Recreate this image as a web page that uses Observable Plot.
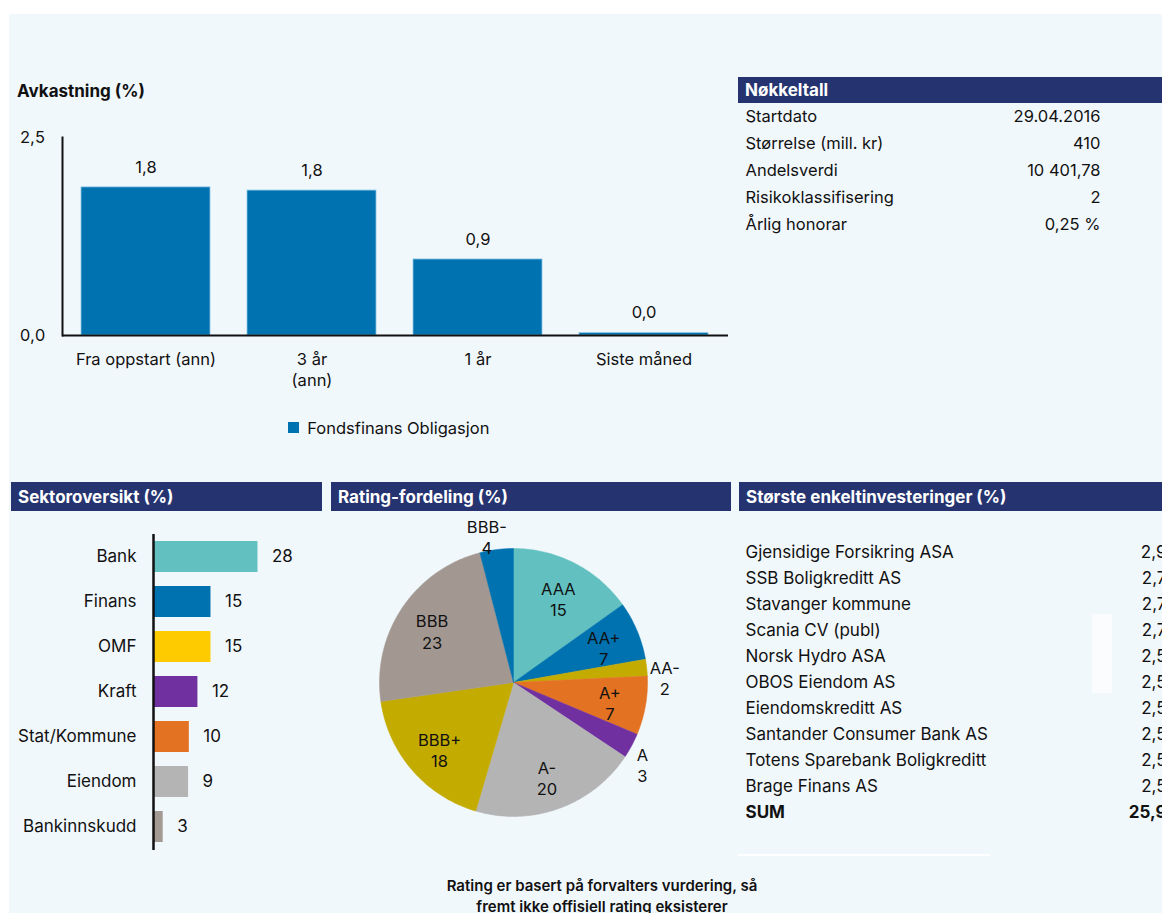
<!DOCTYPE html>
<html>
<head>
<meta charset="utf-8">
<script src="https://cdn.jsdelivr.net/npm/d3@7"></script>
<script src="https://cdn.jsdelivr.net/npm/@observablehq/plot@0.6"></script>
<style>
  html, body { margin: 0; padding: 0; background: #fff; }
  #root { position: relative; width: 1162px; height: 913px; overflow: hidden; background: #fff; font-family: Inter, "Liberation Sans", sans-serif; color: #111; }
  .abs { position: absolute; }
  .abs svg { max-width: none !important; }
  .panel { position: absolute; left: 9px; top: 14px; right: 0; bottom: 0; background: #f1f8fc; }
  .hdr { position: absolute; background: #253470; color: #fff; font-weight: 700; font-size: 17px; box-sizing: border-box; padding-left: 7px; display: flex; align-items: center; }
  .title { position: absolute; font-weight: 700; font-size: 17px; }
  .note { position: absolute; font-weight: 600; font-size: 15px; line-height: 21px; text-align: center; }
</style>
</head>
<body>
<div id="root">
  <div class="panel"></div>
  <div class="title" style="left:17px;top:81px;">Avkastning (%)</div>
  <div id="perf" class="abs" style="left:0;top:120px;width:735px;"></div>
  <div id="perfLegend" class="abs" style="left:288px;top:411px;"></div>

  <div class="hdr" style="left:738px;top:77px;width:424px;height:26px;">Nøkkeltall</div>
  <div id="keys" class="abs" style="left:738px;top:104px;width:424px;"></div>

  <div class="hdr" style="left:11px;top:482px;width:311px;height:29px;">Sektoroversikt (%)</div>
  <div id="sector" class="abs" style="left:0;top:511px;width:330px;"></div>

  <div class="hdr" style="left:331px;top:482px;width:400px;height:29px;">Rating-fordeling (%)</div>
  <div id="rating" class="abs" style="left:331px;top:511px;width:400px;"></div>

  <div class="hdr" style="left:739px;top:482px;width:423px;height:29px;">Største enkeltinvesteringer (%)</div>
  <div id="holdings" class="abs" style="left:738px;top:530px;width:440px;"></div>
  <div class="abs" style="left:1092px;top:614px;width:20px;height:79px;background:#fafcfe;"></div>
  <div class="abs" style="left:738px;top:854px;width:252px;height:2px;background:#ffffff;"></div>

  <div class="note" style="left:402px;top:875px;width:400px;">Rating er basert på forvalters vurdering, så<br>fremt ikke offisiell rating eksisterer</div>
</div>
<script>
// ---------- Data ----------
const perfCategories = ["Fra oppstart (ann)", "3 år (ann)", "1 år", "Siste måned"];
const perfTickLabels = ["Fra oppstart (ann)", "3 år\n(ann)", "1 år", "Siste måned"];
const perfValues = [1.87, 1.83, 0.96, 0.03];
const perfValueLabels = ["1,8", "1,8", "0,9", "0,0"];
const perfYTicks = [0, 2.5];
const perfSeriesName = "Fondsfinans Obligasjon";

const keyLabels = ["Startdato", "Størrelse (mill. kr)", "Andelsverdi", "Risikoklassifisering", "Årlig honorar"];
const keyValues = ["29.04.2016", "410", "10 401,78", "2", "0,25 %"];

const sectorNames = ["Bank", "Finans", "OMF", "Kraft", "Stat/Kommune", "Eiendom", "Bankinnskudd"];
const sectorValues = [28, 15.4, 15.4, 11.9, 9.6, 9.4, 2.6];
const sectorColors = ["#62c1c0", "#0072b0", "#fecb00", "#7030a0", "#e37222", "#b4b4b4", "#a39a94"];

const ratingNames = ["AAA", "AA+", "AA-", "A+", "A", "A-", "BBB+", "BBB", "BBB-"];
const ratingValues = [15, 7, 2, 7, 3, 20, 18, 23, 4];
const ratingColors = ["#62c1c0", "#0072b0", "#c4ab00", "#e37222", "#7030a0", "#b4b4b4", "#c4ab00", "#a29891", "#0072b0"];

const holdingNames = ["Gjensidige Forsikring ASA", "SSB Boligkreditt AS", "Stavanger kommune", "Scania CV (publ)", "Norsk Hydro ASA", "OBOS Eiendom AS", "Eiendomskreditt AS", "Santander Consumer Bank AS", "Totens Sparebank Boligkreditt", "Brage Finans AS"];
const holdingValues = ["2,9", "2,7", "2,7", "2,7", "2,5", "2,5", "2,5", "2,5", "2,5", "2,5"];
const holdingSumLabel = "SUM";
const holdingSumValue = "25,9";

// ---------- Common ----------
const FONT = "Inter, 'Liberation Sans', sans-serif";
const baseStyle = {fontFamily: FONT, fontSize: "16px", color: "#111", background: "transparent", overflow: "visible", maxWidth: "none"};
const comma1 = d => d3.format(".1f")(d).replace(".", ",");

// ---------- Avkastning bar chart ----------
const perfData = perfCategories.map((c, i) => ({cat: c, value: perfValues[i], label: perfValueLabels[i], tick: perfTickLabels[i]}));
const perf = Plot.plot({
  width: 735, height: 280,
  marginLeft: 62, marginRight: 7, marginTop: 17, marginBottom: 65,
  style: baseStyle,
  x: {domain: perfCategories, paddingInner: 0.22, paddingOuter: 0.11},
  y: {domain: [0, 2.5]},
  marks: [
    Plot.barY(perfData, {x: "cat", y: "value", fill: "#0072b0", stroke: "#8cc6e6", strokeWidth: 0.8}),
    Plot.text(perfData, {x: "cat", y: "value", text: "label", dy: -20, lineAnchor: "middle", fontSize: 16.5, fill: "#111"}),
    Plot.frame({anchor: "left", stroke: "#111", strokeWidth: 2}),
    Plot.ruleY([0], {stroke: "#111", strokeWidth: 2}),
    Plot.axisY({ticks: perfYTicks, tickFormat: comma1, tickSize: 0, tickPadding: 17, fontSize: 16.5, label: null, lineAnchor: "middle"}),
    Plot.axisX({tickSize: 0, tickPadding: 14, fontSize: 16.5, label: null, lineHeight: 1.3,
      tickFormat: d => perfTickLabels[perfCategories.indexOf(d)]})
  ]
});
document.getElementById("perf").appendChild(perf);

const legend = Plot.legend({
  color: {type: "ordinal", domain: [perfSeriesName], range: ["#0072b0"]},
  legend: "swatches", swatchSize: 11,
  style: {fontFamily: FONT, fontSize: "16.5px", color: "#111", background: "transparent"}
});
document.getElementById("perfLegend").appendChild(legend);

// ---------- Nøkkeltall table ----------
const keyData = keyLabels.map((l, i) => ({label: l, value: keyValues[i]}));
const keys = Plot.plot({
  width: 424, height: 134, margin: 0,
  style: baseStyle,
  y: {type: "point", domain: keyLabels, range: [12, 120], padding: 0, axis: null},
  marks: [
    Plot.text(keyData, {y: "label", text: "label", frameAnchor: "left", textAnchor: "start", dx: 7, fontSize: 16.5, fill: "#111"}),
    Plot.text(keyData, {y: "label", text: "value", frameAnchor: "right", textAnchor: "end", dx: -62, fontSize: 16.5, fill: "#111"})
  ]
});
document.getElementById("keys").appendChild(keys);

// ---------- Sektoroversikt ----------
const sectorData = sectorNames.map((n, i) => ({name: n, value: sectorValues[i], color: sectorColors[i]}));
const pxPerUnit = 104.5 / 28;
const sector = Plot.plot({
  width: 330, height: 345,
  marginLeft: 153, marginRight: 0, marginTop: 23, marginBottom: 6,
  style: baseStyle,
  x: {domain: [0, 40], range: [153, 153 + 40 * pxPerUnit], axis: null},
  y: {domain: sectorNames, paddingInner: 0.3, paddingOuter: 0.15},
  color: {type: "identity"},
  marks: [
    Plot.barX(sectorData, {y: "name", x: "value", fill: "color"}),
    Plot.text(sectorData, {y: "name", x: "value", text: d => d3.format(".0f")(d.value), dx: 14, textAnchor: "start", fontSize: 17, fill: "#111"}),
    Plot.ruleX([0], {stroke: "#111", strokeWidth: 2.5}),
    Plot.axisY({tickSize: 0, tickPadding: 17, fontSize: 17, label: null})
  ]
});
document.getElementById("sector").appendChild(sector);

// ---------- Rating pie ----------
const total = d3.sum(ratingValues);
const ends = d3.cumsum(ratingValues);
const slices = ratingNames.map((n, i) => {
  const a0 = (ends[i] - ratingValues[i]) / total * 2 * Math.PI;
  const a1 = ends[i] / total * 2 * Math.PI;
  return {name: n, value: ratingValues[i], color: ratingColors[i], a0, a1, mid: (a0 + a1) / 2};
});
const slicePoints = slices.flatMap(s => {
  const n = Math.max(2, Math.ceil((s.a1 - s.a0) / (Math.PI / 180)));
  const arc = d3.range(n + 1).map(k => {
    const t = s.a0 + (s.a1 - s.a0) * k / n;
    return {key: s.name + "-" + s.a0, color: s.color, x: Math.sin(t), y: Math.cos(t)};
  });
  return [{key: s.name + "-" + s.a0, color: s.color, x: 0, y: 0}, ...arc, {key: s.name + "-" + s.a0, color: s.color, x: 0, y: 0}];
});
const labelRadius = s => (s.value >= 5 ? 0.73 : 1.13);
const labelAngle = s => (s.value >= 5 ? s.mid : s.mid + (s.mid > Math.PI * 1.5 ? -0.05 : 0.06));
const rating = Plot.plot({
  width: 400, height: 345, margin: 0,
  style: baseStyle,
  x: {domain: [-1, 1], range: [48, 316], axis: null},
  y: {domain: [-1, 1], range: [305, 37], axis: null},
  color: {type: "identity"},
  marks: [
    Plot.line(slicePoints, {x: "x", y: "y", z: "key", fill: "color", stroke: "color", strokeWidth: 0.5, curve: "linear"}),
    Plot.text(slices, {
      x: s => labelRadius(s) * Math.sin(labelAngle(s)),
      y: s => labelRadius(s) * Math.cos(labelAngle(s)),
      text: s => s.name + "\n" + s.value,
      lineHeight: 1.3, fontSize: 16.5, fill: "#111", dy: 3
    })
  ]
});
document.getElementById("rating").appendChild(rating);

// ---------- Største enkeltinvesteringer ----------
const holdRows = holdingNames.map((n, i) => ({name: n, value: holdingValues[i]}));
const sumRow = [{name: holdingSumLabel, value: holdingSumValue}];
const holdDomain = [...holdingNames, holdingSumLabel];
const holdings = Plot.plot({
  width: 440, height: 300, margin: 0,
  style: baseStyle,
  y: {type: "point", domain: holdDomain, range: [17, 286], padding: 0, axis: null},
  marks: [
    Plot.text(holdRows, {y: "name", text: "name", frameAnchor: "left", textAnchor: "start", dx: 7, fontSize: 17, fill: "#111"}),
    Plot.text(holdRows, {y: "name", text: "value", frameAnchor: "right", textAnchor: "end", dx: -12, fontSize: 17, fill: "#111"}),
    Plot.text(sumRow, {y: "name", text: "name", frameAnchor: "left", textAnchor: "start", dx: 7, fontSize: 17, fontWeight: 700, fill: "#111"}),
    Plot.text(sumRow, {y: "name", text: "value", frameAnchor: "right", textAnchor: "end", dx: -12, fontSize: 17, fontWeight: 700, fill: "#111"})
  ]
});
document.getElementById("holdings").appendChild(holdings);
</script>
</body>
</html>
